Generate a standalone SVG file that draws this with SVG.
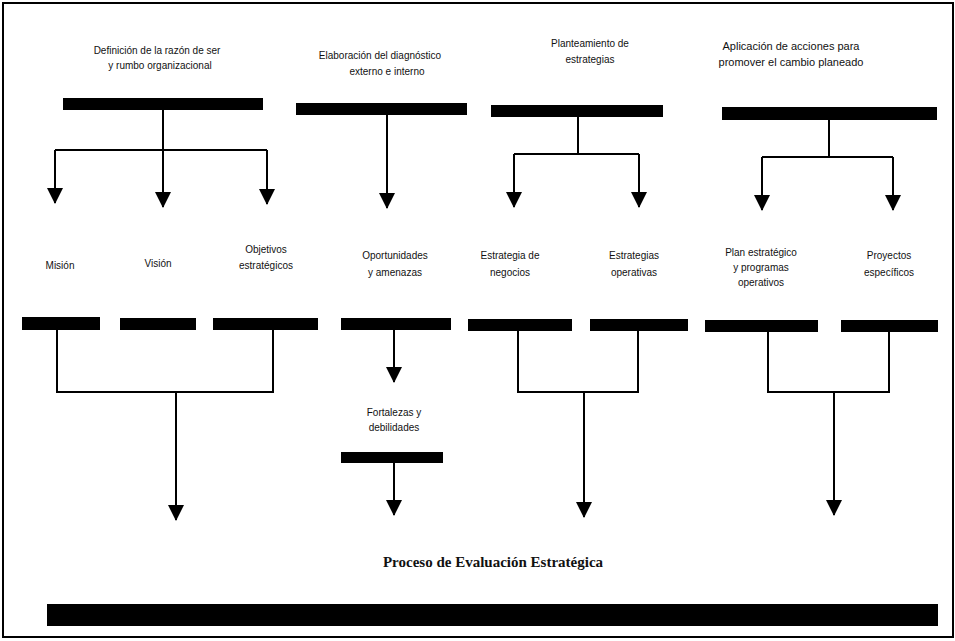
<svg xmlns="http://www.w3.org/2000/svg" width="955" height="641" viewBox="0 0 955 641">
  <style>
    .bar { fill: #000; }
    .lbl { font-family: "Liberation Sans", Arial, sans-serif; font-size: 10px; fill: #111; text-anchor: middle; }
    .lbl-l { font-size: 11px; }
    .title { font-family: "Liberation Serif", "Times New Roman", serif; font-size: 15px; font-weight: bold; fill: #111; text-anchor: middle; }
    .conn { fill: none; stroke: #000; stroke-width: 2; }
    .frame { fill: #fff; stroke: #000; stroke-width: 2; }
  </style>
  <defs>
    <marker id="head" markerUnits="userSpaceOnUse" viewBox="0 -8 16 16" markerWidth="16" markerHeight="16" refX="15" refY="0" orient="auto">
      <path d="M0,-8 L16,0 L0,8 Z" fill="#000"/>
    </marker>
  </defs>

  <!-- page frame -->
  <rect class="frame" x="3" y="3" width="950" height="634"/>

  <!-- top row: the four stages -->
  <g id="definicion">
    <text class="lbl" x="157" y="54">Definición de la razón de ser</text>
    <text class="lbl" x="160" y="69">y rumbo organizacional</text>
    <rect class="bar" x="63" y="98" width="200" height="12"/>
  </g>
  <g id="elaboracion">
    <text class="lbl" x="380" y="59">Elaboración  del diagnóstico</text>
    <text class="lbl" x="387" y="75">externo e interno</text>
    <rect class="bar" x="296" y="103" width="171" height="12"/>
  </g>
  <g id="planteamiento">
    <text class="lbl" x="590" y="47">Planteamiento de</text>
    <text class="lbl" x="590" y="63">estrategias</text>
    <rect class="bar" x="491" y="105" width="172" height="12"/>
  </g>
  <g id="aplicacion">
    <text class="lbl lbl-l" x="791" y="50">Aplicación de acciones para</text>
    <text class="lbl lbl-l" x="791" y="66">promover el cambio planeado</text>
    <rect class="bar" x="722" y="107" width="215" height="13"/>
  </g>

  <!-- middle row: results of each stage -->
  <g id="mision">
    <text class="lbl" x="60" y="269">Misión</text>
    <rect class="bar" x="22" y="317" width="78" height="13"/>
  </g>
  <g id="vision">
    <text class="lbl" x="158" y="267">Visión</text>
    <rect class="bar" x="120" y="318" width="76" height="12"/>
  </g>
  <g id="objetivos">
    <text class="lbl" x="266" y="253">Objetivos</text>
    <text class="lbl" x="266" y="269">estratégicos</text>
    <rect class="bar" x="213" y="318" width="105" height="12"/>
  </g>
  <g id="oportunidades">
    <text class="lbl" x="395" y="259">Oportunidades</text>
    <text class="lbl" x="395" y="276">y amenazas</text>
    <rect class="bar" x="341" y="318" width="110" height="12"/>
  </g>
  <g id="fortalezas">
    <text class="lbl" x="394" y="416">Fortalezas y</text>
    <text class="lbl" x="394" y="431">debilidades</text>
    <rect class="bar" x="341" y="452" width="102" height="11"/>
  </g>
  <g id="estrategia-negocios">
    <text class="lbl" x="510" y="259">Estrategia de</text>
    <text class="lbl" x="510" y="276">negocios</text>
    <rect class="bar" x="468" y="319" width="104" height="12"/>
  </g>
  <g id="estrategias-operativas">
    <text class="lbl" x="634" y="259">Estrategias</text>
    <text class="lbl" x="634" y="276">operativas</text>
    <rect class="bar" x="590" y="319" width="98" height="12"/>
  </g>
  <g id="plan-estrategico">
    <text class="lbl" x="761" y="256">Plan estratégico</text>
    <text class="lbl" x="761" y="271">y programas</text>
    <text class="lbl" x="761" y="286">operativos</text>
    <rect class="bar" x="705" y="320" width="113" height="12"/>
  </g>
  <g id="proyectos">
    <text class="lbl" x="889" y="259">Proyectos</text>
    <text class="lbl" x="889" y="276">específicos</text>
    <rect class="bar" x="841" y="320" width="97" height="12"/>
  </g>

  <!-- bottom: evaluation process -->
  <g id="evaluacion">
    <text class="title" x="493" y="567">Proceso de Evaluación Estratégica</text>
    <rect class="bar" x="47" y="604" width="891" height="22"/>
  </g>

  <!-- connectors -->
  <g id="connectors">
    <path class="conn" d="M163,110 V150 M55,150 H267"/>
    <path class="conn" d="M55,150 V203" marker-end="url(#head)"/>
    <path class="conn" d="M163,150 V207" marker-end="url(#head)"/>
    <path class="conn" d="M267,150 V204" marker-end="url(#head)"/>

    <path class="conn" d="M387,115 V208" marker-end="url(#head)"/>

    <path class="conn" d="M578,117 V154 M514,154 H639"/>
    <path class="conn" d="M514,154 V207" marker-end="url(#head)"/>
    <path class="conn" d="M639,154 V207" marker-end="url(#head)"/>

    <path class="conn" d="M829,120 V157 M762,157 H893"/>
    <path class="conn" d="M762,157 V210" marker-end="url(#head)"/>
    <path class="conn" d="M893,157 V210" marker-end="url(#head)"/>

    <path class="conn" d="M57,330 V392 H273 V330"/>
    <path class="conn" d="M176,392 V520" marker-end="url(#head)"/>

    <path class="conn" d="M394,330 V382" marker-end="url(#head)"/>
    <path class="conn" d="M394,463 V515" marker-end="url(#head)"/>

    <path class="conn" d="M518,331 V392 H638 V331"/>
    <path class="conn" d="M584,392 V517" marker-end="url(#head)"/>

    <path class="conn" d="M768,332 V392 H889 V332"/>
    <path class="conn" d="M834,392 V515" marker-end="url(#head)"/>
  </g>
</svg>
